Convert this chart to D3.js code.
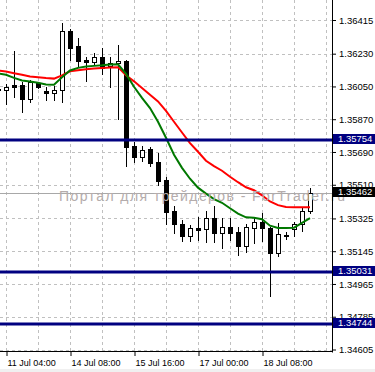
<!DOCTYPE html>
<html>
<head>
<meta charset="utf-8">
<script src="https://cdn.jsdelivr.net/npm/d3@7"></script>
<style>
  body { margin: 0; background: #fff; }
  svg { display: block; }
</style>
</head>
<body>
<svg id="chart" width="375" height="372"></svg>
<script>
// H4 bars, EURUSD-like quotes
const times = [
    "11 Jul 00:00", "11 Jul 04:00", "11 Jul 08:00", "11 Jul 12:00", "11 Jul 16:00",
    "11 Jul 20:00", "13 Jul 20:00", "14 Jul 00:00", "14 Jul 04:00", "14 Jul 08:00",
    "14 Jul 12:00", "14 Jul 16:00", "14 Jul 20:00", "15 Jul 00:00", "15 Jul 04:00",
    "15 Jul 08:00", "15 Jul 12:00", "15 Jul 16:00", "15 Jul 20:00", "16 Jul 00:00",
    "16 Jul 04:00", "16 Jul 08:00", "16 Jul 12:00", "16 Jul 16:00", "16 Jul 20:00",
    "17 Jul 00:00", "17 Jul 04:00", "17 Jul 08:00", "17 Jul 12:00", "17 Jul 16:00",
    "17 Jul 20:00", "18 Jul 00:00", "18 Jul 04:00", "18 Jul 08:00", "18 Jul 12:00",
    "18 Jul 16:00", "18 Jul 20:00", "20 Jul 20:00", "21 Jul 00:00", "21 Jul 04:00"
];

const open = [1.36037, 1.36031, 1.36059, 1.36059, 1.35982, 1.36070, 1.36026, 1.36015, 1.36031, 1.36355,
    1.36273, 1.36196, 1.36185, 1.36212, 1.36163, 1.36179, 1.36190, 1.35724, 1.35664, 1.35708,
    1.35636, 1.35538, 1.35368, 1.35296, 1.35230, 1.35274, 1.35269, 1.35329, 1.35247, 1.35280,
    1.35252, 1.35175, 1.35274, 1.35307, 1.35274, 1.35137, 1.35236, 1.35269, 1.35296, 1.35368];
const high = [1.36042, 1.36064, 1.36245, 1.36075, 1.36086, 1.36075, 1.36048, 1.36053, 1.36399, 1.36366,
    1.36317, 1.36212, 1.36234, 1.36262, 1.36212, 1.36278, 1.36196, 1.35746, 1.35724, 1.35719,
    1.35686, 1.35554, 1.35395, 1.35318, 1.35291, 1.35335, 1.35368, 1.35395, 1.35329, 1.35329,
    1.35280, 1.35296, 1.35329, 1.35357, 1.35280, 1.35302, 1.35252, 1.35307, 1.35384, 1.35494];
const low = [1.36020, 1.35954, 1.35993, 1.35911, 1.35965, 1.36042, 1.35976, 1.35976, 1.35965, 1.36196,
    1.36163, 1.36081, 1.36174, 1.36119, 1.36048, 1.35872, 1.35614, 1.35636, 1.35642, 1.35614,
    1.35510, 1.35296, 1.35247, 1.35203, 1.35203, 1.35208, 1.35197, 1.35197, 1.35165, 1.35208,
    1.35126, 1.35143, 1.35192, 1.35203, 1.34901, 1.35121, 1.35214, 1.35230, 1.35258, 1.35357];
const close = [1.36031, 1.36048, 1.36048, 1.35982, 1.36075, 1.36048, 1.36015, 1.36031, 1.36355, 1.36262,
    1.36190, 1.36185, 1.36212, 1.36152, 1.36179, 1.36190, 1.35719, 1.35664, 1.35702, 1.35631,
    1.35532, 1.35362, 1.35296, 1.35230, 1.35274, 1.35263, 1.35329, 1.35247, 1.35280, 1.35247,
    1.35175, 1.35280, 1.35307, 1.35274, 1.35137, 1.35241, 1.35230, 1.35296, 1.35368, 1.35462];

// moving averages
const maSlow = [1.36138, 1.36132, 1.36122, 1.36114, 1.36105, 1.36101, 1.36096, 1.36093, 1.36111, 1.36133,
    1.36139, 1.36144, 1.36149, 1.36152, 1.36154, 1.36156, 1.36111, 1.36078, 1.36041, 1.36004,
    1.35968, 1.35916, 1.35856, 1.35797, 1.35739, 1.35691, 1.35642, 1.35612, 1.35587, 1.35554,
    1.35524, 1.35496, 1.35480, 1.35452, 1.35418, 1.35398, 1.35388, 1.35386, 1.35386, 1.35386];
const maFast = [1.36121, 1.36114, 1.36097, 1.36083, 1.36077, 1.36070, 1.36061, 1.36059, 1.36100, 1.36138,
    1.36152, 1.36159, 1.36163, 1.36166, 1.36171, 1.36172, 1.36119, 1.36048, 1.35987, 1.35931,
    1.35856, 1.35768, 1.35675, 1.35603, 1.35543, 1.35494, 1.35461, 1.35431, 1.35411, 1.35381,
    1.35351, 1.35331, 1.35329, 1.35321, 1.35285, 1.35272, 1.35272, 1.35274, 1.35300, 1.35327];

const priceTicks = [1.36415, 1.36230, 1.36050, 1.35870, 1.35690, 1.35510,
    1.35325, 1.35145, 1.34965, 1.34785, 1.34605];
const levels = [1.35754, 1.35031, 1.34744];
const bid = 1.35462;
const timeLabelBars = [1, 9, 17, 25, 33];
const watermark = "Портал для трейдеров - ForTrader.ru";

// --------------------------------------------------------------
const plotW = 332, plotH = 352;
const font = "'Liberation Sans', Arial, sans-serif";

const x = d3.scaleLinear().domain([0, 39]).range([-2, 310]);
const y = d3.scaleLinear().domain([1.34605, 1.36415]).range([349.5, 20]);
const fmt = d3.format(".5f");

const svg = d3.select("#chart");

svg.append("rect").attr("x", 0).attr("y", 369).attr("width", 375).attr("height", 3).attr("fill", "#f0f0f0");

svg.append("defs").append("clipPath").attr("id", "plot")
    .append("rect").attr("width", plotW).attr("height", plotH);

const plot = svg.append("g").attr("clip-path", "url(#plot)");

// grid
plot.append("g")
    .attr("stroke", "#c0c0c0")
    .attr("stroke-dasharray", "3,3")
    .selectAll("line")
    .data(priceTicks)
    .join("line")
    .attr("x1", 0).attr("x2", plotW)
    .attr("y1", d => Math.round(y(d)) + 0.5)
    .attr("y2", d => Math.round(y(d)) + 0.5);

plot.append("g")
    .attr("stroke", "#c0c0c0")
    .attr("stroke-dasharray", "3,3")
    .selectAll("line")
    .data(d3.range(1, 42, 4))
    .join("line")
    .attr("x1", d => x(d) + 0.5).attr("x2", d => x(d) + 0.5)
    .attr("y1", 0).attr("y2", plotH);

// watermark
svg.append("text")
    .attr("x", 59).attr("y", 201)
    .attr("font-family", font)
    .attr("font-size", 14)
    .attr("fill", "#b4acac")
    .attr("textLength", 286)
    .attr("lengthAdjust", "spacing")
    .text(watermark);

// bid line
plot.append("line")
    .attr("x1", 0).attr("x2", plotW)
    .attr("y1", Math.round(y(bid)) + 0.5).attr("y2", Math.round(y(bid)) + 0.5)
    .attr("stroke", "#a8a8a8");

// candles
const bars = times.map((t, i) => ({ i, o: open[i], h: high[i], l: low[i], c: close[i] }));

const candle = plot.append("g")
    .attr("shape-rendering", "crispEdges")
    .selectAll("g")
    .data(bars)
    .join("g");

candle.append("line")
    .attr("x1", d => Math.round(x(d.i)) + 0.5)
    .attr("x2", d => Math.round(x(d.i)) + 0.5)
    .attr("y1", d => Math.round(y(d.h)))
    .attr("y2", d => Math.round(y(d.l)) + 1)
    .attr("stroke", "#000");

candle.append("rect")
    .attr("x", d => Math.round(x(d.i)) - (d.c > d.o ? 1.5 : 2))
    .attr("y", d => Math.round(y(Math.max(d.o, d.c))) + (d.c > d.o ? 0.5 : 0))
    .attr("width", d => d.c > d.o ? 4 : 5)
    .attr("height", d => {
        const hgt = Math.round(y(Math.min(d.o, d.c))) - Math.round(y(Math.max(d.o, d.c)));
        return d.c > d.o ? Math.max(hgt, 1) : Math.max(hgt + 1, 2);
    })
    .attr("fill", d => d.c > d.o ? "#fff" : "#000")
    .attr("stroke", d => d.c > d.o ? "#000" : "none");

// moving averages
const line = d3.line().x((d, i) => x(i)).y(d => y(d));

plot.append("path")
    .attr("d", line(maSlow))
    .attr("fill", "none")
    .attr("stroke", "#ff0000")
    .attr("stroke-width", 2);

plot.append("path")
    .attr("d", line(maFast))
    .attr("fill", "none")
    .attr("stroke", "#007800")
    .attr("stroke-width", 2);

// horizontal levels
plot.append("g")
    .selectAll("line")
    .data(levels)
    .join("line")
    .attr("x1", 0).attr("x2", plotW)
    .attr("y1", d => Math.round(y(d)))
    .attr("y2", d => Math.round(y(d)))
    .attr("stroke", "#000080")
    .attr("stroke-width", 3);

// axes
const yAxis = svg.append("g")
    .attr("transform", `translate(${plotW},0)`)
    .call(d3.axisRight(y).tickValues(priceTicks).tickFormat(fmt).tickSize(4).tickPadding(3));
yAxis.select(".domain").remove();
yAxis.selectAll("text").attr("font-family", font).attr("font-size", 9.5).attr("fill", "#000");

const xAxis = svg.append("g")
    .attr("transform", `translate(0,${plotH})`)
    .call(d3.axisBottom(x).tickValues(timeLabelBars).tickFormat(i => times[i]).tickSize(4));
xAxis.select(".domain").remove();
xAxis.selectAll("line").attr("transform", "translate(0.5,0)");
xAxis.selectAll("text")
    .attr("font-family", font).attr("font-size", 9).attr("fill", "#000")
    .attr("text-anchor", "start")
    .attr("x", 1).attr("y", 14).attr("dy", 0);

svg.append("line")
    .attr("x1", plotW + 0.5).attr("x2", plotW + 0.5)
    .attr("y1", 0).attr("y2", plotH + 0.5)
    .attr("stroke", "#000");
svg.append("line")
    .attr("x1", 0).attr("x2", plotW + 0.5)
    .attr("y1", plotH - 0.5).attr("y2", plotH - 0.5)
    .attr("stroke", "#000");

// price labels for levels and bid
const tags = levels.map(v => ({ v, bg: "#000080" })).concat([{ v: bid, bg: "#000" }]);

const tag = svg.append("g")
    .selectAll("g")
    .data(tags)
    .join("g")
    .attr("transform", d => `translate(${plotW + 1},${Math.round(y(d.v)) - 1})`);

tag.append("rect")
    .attr("x", 0).attr("y", -5)
    .attr("width", 42).attr("height", 10)
    .attr("fill", d => d.bg);

tag.append("text")
    .attr("x", 5).attr("dy", "0.35em")
    .attr("font-family", font).attr("font-size", 9.5)
    .attr("fill", "#fff")
    .text(d => fmt(d.v));
</script>
</body>
</html>
